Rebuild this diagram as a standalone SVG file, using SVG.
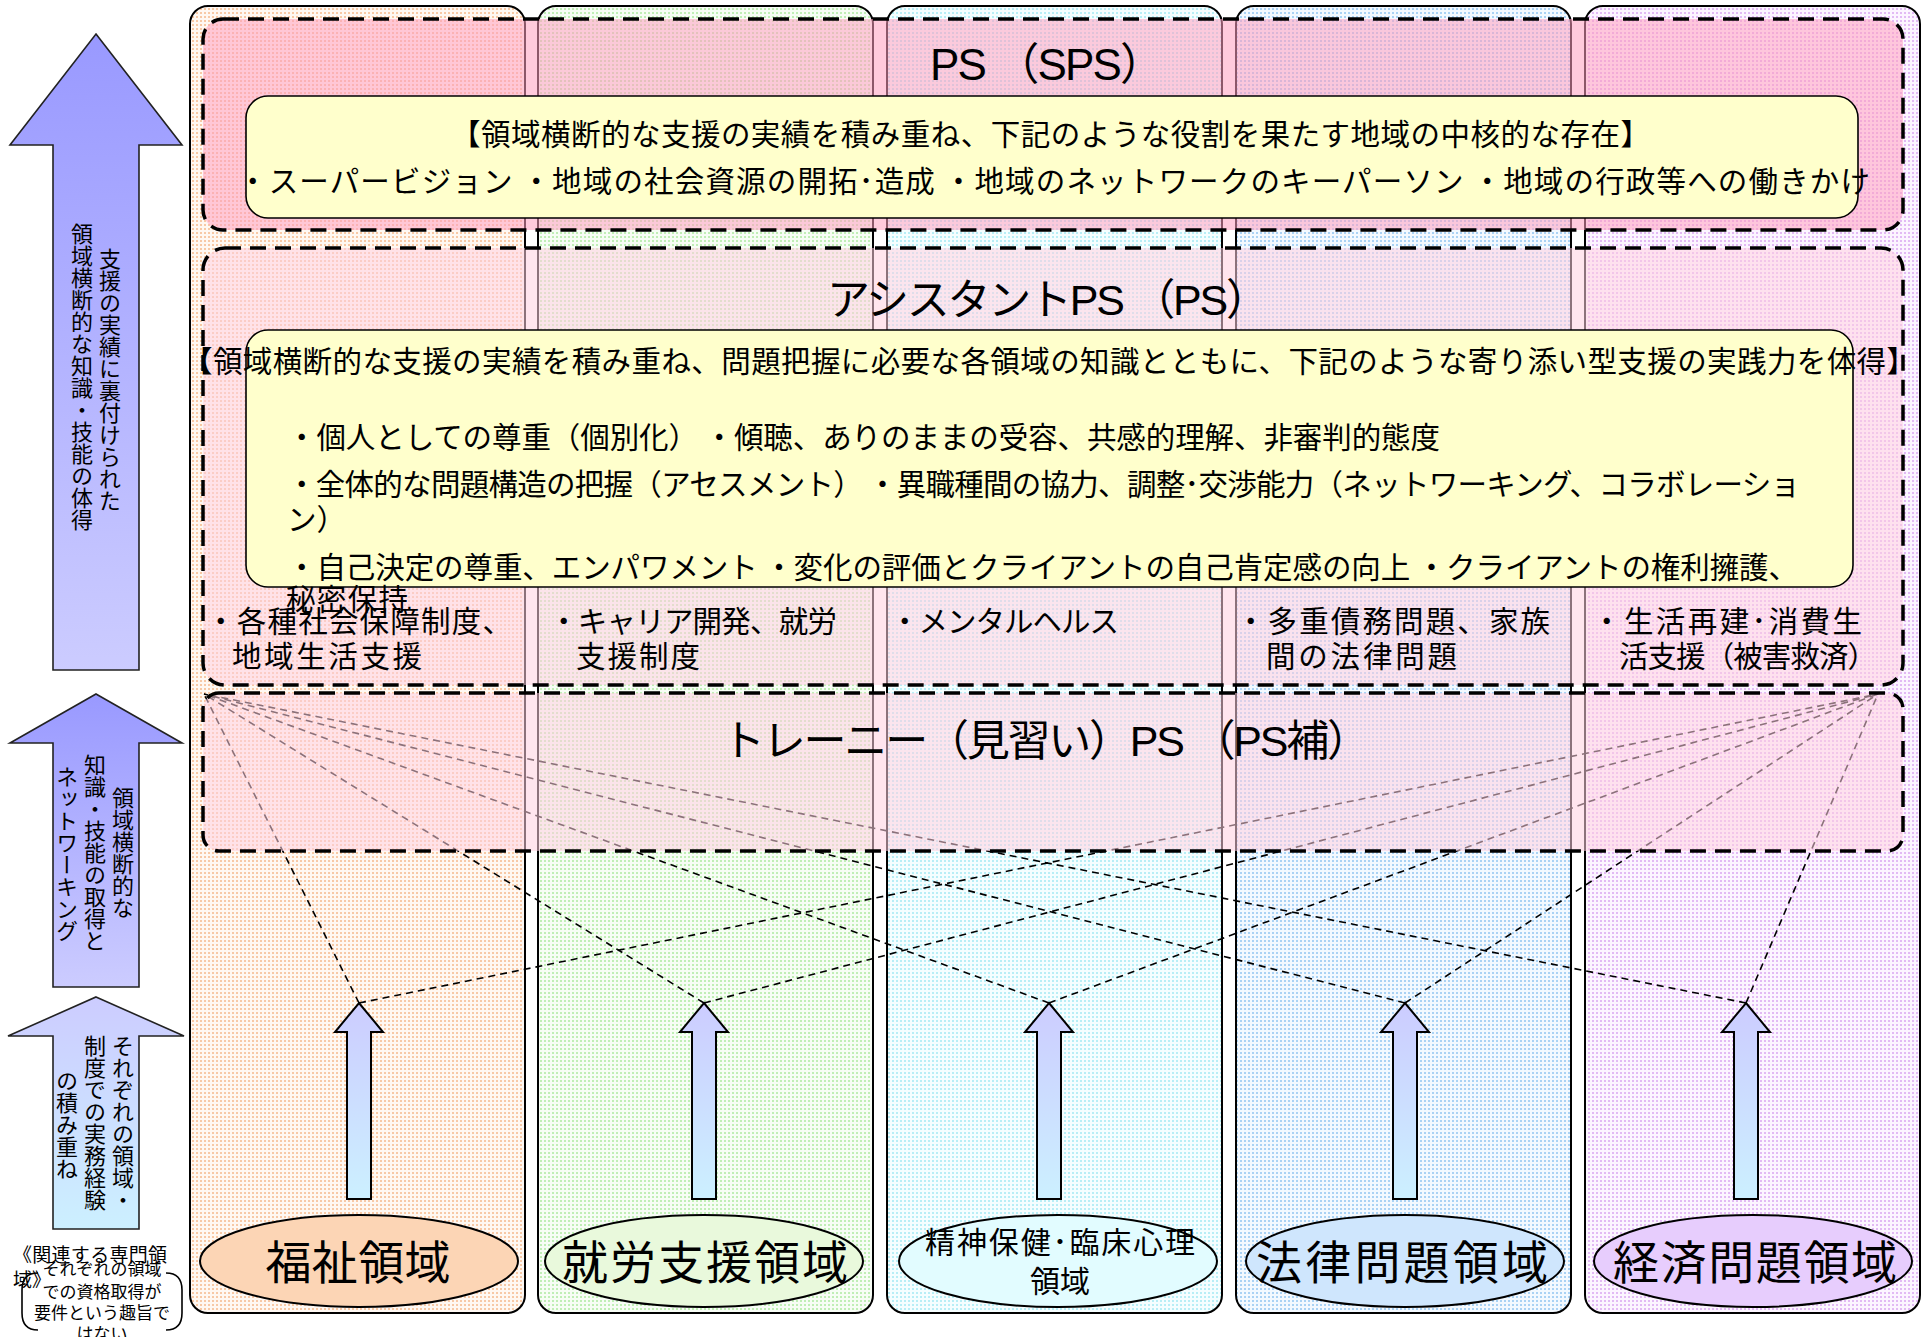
<svg xmlns="http://www.w3.org/2000/svg" width="1927" height="1337" viewBox="0 0 1927 1337">
<style>
.jp{font-family:"Noto Sans CJK JP","Noto Sans CJK SC",sans-serif;fill:#000}
.lat{font-family:"Liberation Sans","Noto Sans CJK JP",sans-serif;fill:#000}
.t28{font-size:29.5px}
.vt{font-family:"Noto Sans CJK JP",sans-serif;font-size:22px;writing-mode:vertical-rl;text-anchor:middle;fill:#000}
.col{stroke:#000;stroke-width:2}
.dbox{stroke:#000;stroke-width:3.5;stroke-dasharray:16 9}
.ybox{fill:#ffffcc;stroke:#000;stroke-width:1.6}
.ell{stroke:#000;stroke-width:2}
.conn{fill:none;stroke:#000;stroke-width:1.6;stroke-dasharray:7 5}
.bigarrow{stroke:#222;stroke-width:1.6}
</style>
<defs>
<pattern id="p1" width="4" height="4" patternUnits="userSpaceOnUse"><rect width="4" height="4" fill="#fff8f2"/><rect width="2" height="2" fill="#f7c9a6"/></pattern>
<pattern id="p2" width="4" height="4" patternUnits="userSpaceOnUse"><rect width="4" height="4" fill="#f7fdf5"/><rect width="2" height="2" fill="#c0eeb6"/></pattern>
<pattern id="p3" width="4" height="4" patternUnits="userSpaceOnUse"><rect width="4" height="4" fill="#f5feff"/><rect width="2" height="2" fill="#b8eef6"/></pattern>
<pattern id="p4" width="4" height="4" patternUnits="userSpaceOnUse"><rect width="4" height="4" fill="#f3f9ff"/><rect width="2" height="2" fill="#aad2f4"/></pattern>
<pattern id="p5" width="4" height="4" patternUnits="userSpaceOnUse"><rect width="4" height="4" fill="#fcf5ff"/><rect width="2" height="2" fill="#e2baf4"/></pattern>
<linearGradient id="gA" x1="0" y1="0" x2="0" y2="1"><stop offset="0" stop-color="#9999ff"/><stop offset="1" stop-color="#ccccff"/></linearGradient>
<linearGradient id="gB" x1="0" y1="0" x2="0" y2="1"><stop offset="0" stop-color="#ccccff"/><stop offset="1" stop-color="#ccf0ff"/></linearGradient>
<path id="sa" d="M0 0 L24 29 L12 29 L12 196 L-12 196 L-12 29 L-24 29 Z" fill="url(#gB)" stroke="#000" stroke-width="2"/>
</defs>

<g id="columns">
<rect id="col-welfare" class="col" x="190" y="6" width="335" height="1307" rx="18" fill="url(#p1)"/>
<rect id="col-employment" class="col" x="538" y="6" width="335" height="1307" rx="18" fill="url(#p2)"/>
<rect id="col-mental" class="col" x="887" y="6" width="335" height="1307" rx="18" fill="url(#p3)"/>
<rect id="col-legal" class="col" x="1236" y="6" width="335" height="1307" rx="18" fill="url(#p4)"/>
<rect id="col-economic" class="col" x="1585" y="6" width="335" height="1307" rx="18" fill="url(#p5)"/>
</g>

<g id="connectors">
<line class="conn" x1="359" y1="1003" x2="204" y2="694"/>
<line class="conn" x1="359" y1="1003" x2="1878" y2="694"/>
<line class="conn" x1="704" y1="1003" x2="204" y2="694"/>
<line class="conn" x1="704" y1="1003" x2="1878" y2="694"/>
<line class="conn" x1="1049" y1="1003" x2="204" y2="694"/>
<line class="conn" x1="1049" y1="1003" x2="1878" y2="694"/>
<line class="conn" x1="1405" y1="1003" x2="204" y2="694"/>
<line class="conn" x1="1405" y1="1003" x2="1878" y2="694"/>
<line class="conn" x1="1746" y1="1003" x2="204" y2="694"/>
<line class="conn" x1="1746" y1="1003" x2="1878" y2="694"/>
</g>

<g id="trainee">
<rect class="dbox" x="203" y="693" width="1700" height="158" rx="16" fill="#ffcfe0" fill-opacity="0.55"/>
<text class="lat" x="1046" y="756" font-size="43" text-anchor="middle" textLength="648" lengthAdjust="spacing">トレーニー（見習い）PS （PS補）</text>
</g>

<g id="assistant">
<rect class="dbox" x="203" y="248" width="1700" height="437" rx="22" fill="#ffcfe0" fill-opacity="0.55"/>
<text class="lat" x="1048" y="315" font-size="43" text-anchor="middle" textLength="442" lengthAdjust="spacing">アシスタントPS （PS）</text>
<rect class="ybox" x="246" y="330" width="1607" height="257" rx="22"/>
<text class="jp t28" x="183" y="372" textLength="1733" lengthAdjust="spacing">【領域横断的な支援の実績を積み重ね、問題把握に必要な各領域の知識とともに、下記のような寄り添い型支援の実践力を体得】</text>
<text class="jp t28" x="287" y="448" textLength="1153" lengthAdjust="spacing">・個人としての尊重（個別化） ・傾聴、ありのままの受容、共感的理解、非審判的態度</text>
<text class="jp t28" x="287" y="495" textLength="1513" lengthAdjust="spacing">・全体的な問題構造の把握（アセスメント） ・異職種間の協力、調整･交渉能力（ネットワーキング、コラボレーショ</text>
<text class="jp t28" x="287" y="530">ン）</text>
<text class="jp t28" x="287" y="578" textLength="1511" lengthAdjust="spacing">・自己決定の尊重、エンパワメント ・変化の評価とクライアントの自己肯定感の向上 ・クライアントの権利擁護、</text>
<text class="jp t28" x="286" y="610" textLength="122" lengthAdjust="spacing">秘密保持</text>
<text class="jp t28" x="206" y="632" textLength="306" lengthAdjust="spacing">・各種社会保障制度、</text>
<text class="jp t28" x="232" y="667" textLength="190" lengthAdjust="spacing">地域生活支援</text>
<text class="jp t28" x="549" y="632" textLength="288" lengthAdjust="spacing">・キャリア開発、就労</text>
<text class="jp t28" x="576" y="667" textLength="124" lengthAdjust="spacing">支援制度</text>
<text class="jp t28" x="890" y="632" textLength="229" lengthAdjust="spacing">・メンタルヘルス</text>
<text class="jp t28" x="1236" y="632" textLength="314" lengthAdjust="spacing">・多重債務問題、家族</text>
<text class="jp t28" x="1266" y="667" textLength="191" lengthAdjust="spacing">間の法律問題</text>
<text class="jp t28" x="1592" y="632" textLength="270" lengthAdjust="spacing">・生活再建･消費生</text>
<text class="jp t28" x="1619" y="667" textLength="258" lengthAdjust="spacing">活支援（被害救済）</text>
</g>

<g id="sps">
<rect class="dbox" x="203" y="19" width="1700" height="211" rx="20" fill="#ff9ec0" fill-opacity="0.55"/>
<text class="lat" x="1047" y="80" font-size="44" text-anchor="middle" textLength="234" lengthAdjust="spacing">PS （SPS）</text>
<rect class="ybox" x="246" y="96" width="1612" height="122" rx="22"/>
<text class="jp t28" x="451" y="145" textLength="1199" lengthAdjust="spacing">【領域横断的な支援の実績を積み重ね、下記のような役割を果たす地域の中核的な存在】</text>
<text class="jp t28" x="238" y="192" textLength="1632" lengthAdjust="spacing">・スーパービジョン ・地域の社会資源の開拓･造成 ・地域のネットワークのキーパーソン ・地域の行政等への働きかけ</text>
</g>

<g id="level-arrows">
<g id="arrow-top">
<polygon class="bigarrow" points="96,34 182,145 139,145 139,670 53,670 53,145 10,145" fill="url(#gA)"/>
<text class="vt" x="110" y="380">支援の実績に裏付けられた</text>
<text class="vt" x="82" y="377">領域横断的な知識・技能の体得</text>
</g>
<g id="arrow-mid">
<polygon class="bigarrow" points="96,694 182,743 139,743 139,987 53,987 53,743 10,743" fill="url(#gA)"/>
<text class="vt" x="123" y="853">領域横断的な</text>
<text class="vt" x="95" y="853">知識・技能の取得と</text>
<text class="vt" x="67" y="854">ネットワーキング</text>
</g>
<g id="arrow-low">
<polygon class="bigarrow" points="96,997 184,1036 139,1036 139,1229 53,1229 53,1036 8,1036" fill="url(#gB)"/>
<text class="vt" x="123" y="1123">それぞれの領域・</text>
<text class="vt" x="95" y="1123">制度での実務経験</text>
<text class="vt" x="67" y="1125">の積み重ね</text>
</g>
</g>

<g id="note">
<text class="jp" x="13" y="1262" font-size="19" textLength="154" lengthAdjust="spacing">《関連する専門領</text>
<text class="jp" x="13" y="1287" font-size="19">域》</text>
<path d="M38 1273 Q22 1273 22 1290 L22 1313 Q22 1330 38 1330 M166 1273 Q182 1273 182 1290 L182 1313 Q182 1330 166 1330" fill="none" stroke="#000" stroke-width="1.6"/>
<text class="jp" x="102" y="1275" font-size="17" text-anchor="middle">それぞれの領域</text>
<text class="jp" x="102" y="1298" font-size="17" text-anchor="middle">での資格取得が</text>
<text class="jp" x="102" y="1319" font-size="17" text-anchor="middle">要件という趣旨で</text>
<text class="jp" x="102" y="1340" font-size="17" text-anchor="middle">はない</text>
</g>

<g id="domain-arrows">
<use href="#sa" x="359" y="1003"/>
<use href="#sa" x="704" y="1003"/>
<use href="#sa" x="1049" y="1003"/>
<use href="#sa" x="1405" y="1003"/>
<use href="#sa" x="1746" y="1003"/>
</g>

<g id="node-welfare">
<ellipse class="ell" cx="359" cy="1261" rx="159" ry="46" fill="#fcd5b5"/>
<text class="jp" x="358" y="1279" font-size="46" text-anchor="middle" textLength="185" lengthAdjust="spacing">福祉領域</text>
</g>
<g id="node-employment">
<ellipse class="ell" cx="704" cy="1261" rx="159" ry="46" fill="#e9f9dc"/>
<text class="jp" x="705" y="1279" font-size="46" text-anchor="middle" textLength="286" lengthAdjust="spacing">就労支援領域</text>
</g>
<g id="node-mental">
<ellipse class="ell" cx="1058" cy="1261" rx="159" ry="46" fill="#e2fcff"/>
<text class="jp" x="1060" y="1253" font-size="30" text-anchor="middle" textLength="270" lengthAdjust="spacing">精神保健･臨床心理</text>
<text class="jp" x="1060" y="1292" font-size="30" text-anchor="middle">領域</text>
</g>
<g id="node-legal">
<ellipse class="ell" cx="1405" cy="1261" rx="159" ry="46" fill="#cfe6fd"/>
<text class="jp" x="1402" y="1279" font-size="46" text-anchor="middle" textLength="292" lengthAdjust="spacing">法律問題領域</text>
</g>
<g id="node-economic">
<ellipse class="ell" cx="1753" cy="1261" rx="159" ry="46" fill="#e7cdfd"/>
<text class="jp" x="1755" y="1279" font-size="46" text-anchor="middle" textLength="284" lengthAdjust="spacing">経済問題領域</text>
</g>
</svg>
